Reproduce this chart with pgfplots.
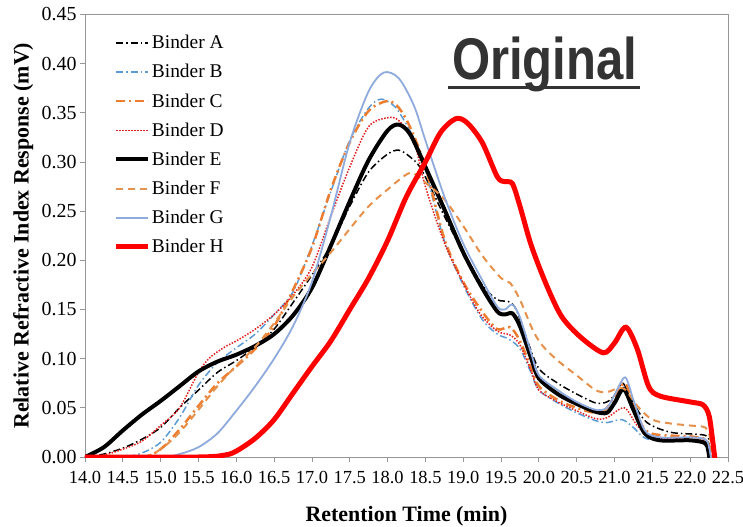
\documentclass[border=0pt]{standalone}
\usepackage{fontspec}
\setmainfont{Liberation Serif}
\newfontfamily\bannerfont{Liberation Sans}
\usepackage{graphicx}
\usepackage{pgfplots}
\pgfplotsset{compat=1.18}

\definecolor{binderB}{RGB}{91,155,213}
\definecolor{binderC}{RGB}{237,125,49}
\definecolor{binderD}{RGB}{225,30,30}
\definecolor{binderF}{RGB}{230,145,75}
\definecolor{binderG}{RGB}{143,170,220}
\definecolor{binderH}{RGB}{255,0,0}
\definecolor{axisgray}{RGB}{150,150,150}
\definecolor{bannergray}{RGB}{51,51,51}

\begin{document}
\begin{tikzpicture}
\useasboundingbox (-85bp,-70bp) rectangle (658bp,457bp);
\begin{axis}[
  width=643bp, height=442.5bp, scale only axis,
  xmin=14, xmax=22.5, ymin=0, ymax=0.45,
  xtick={14,14.5,15,15.5,16,16.5,17,17.5,18,18.5,19,19.5,20,20.5,21,21.5,22,22.5},
  ytick={0,0.05,0.1,0.15,0.2,0.25,0.3,0.35,0.4,0.45},
  /pgf/number format/assume math mode=true,
  xticklabel style={font=\fontsize{18.5}{22}\selectfont, yshift=-6bp,
    /pgf/number format/.cd, fixed, fixed zerofill, precision=1},
  yticklabel style={font=\fontsize{20}{24}\selectfont,
    /pgf/number format/.cd, fixed, fixed zerofill, precision=2},
  tick align=outside, tick pos=left, major tick length=5bp,
  axis line style={axisgray, line width=0.8bp},
  every tick/.style={axisgray, line width=0.8bp},
  xlabel={Retention Time (min)},
  ylabel={Relative Refractive Index Response (mV)},
  label style={font=\fontsize{22}{26}\selectfont\bfseries},
  xlabel style={at={(axis description cs:0.5,-0.133)}, anchor=center},
  ylabel style={at={(axis description cs:-0.096,0.5)}, anchor=center},
  legend image code/.code={\draw[#1] (0bp,0bp) -- (32bp,0bp);},
  legend cell align=left,
  legend style={draw=none, fill=none, at={(axis description cs:0.040,0.958)},
    anchor=north west, font=\fontsize{19.5}{22}\selectfont, row sep=14.2bp,
    /tikz/every odd column/.append style={column sep=1bp},
    nodes={inner sep=0pt}},
]
% Binder A
\addplot[black, line width=1.5bp, smooth, dash pattern=on 7bp off 3bp on 1.5bp off 3bp] coordinates {
(14.0,0) (14.25,0.003) (14.5,0.009) (14.75,0.018) (15.0,0.030) (15.25,0.050) (15.5,0.068)
(15.75,0.086) (16.0,0.098) (16.25,0.112) (16.5,0.130) (16.75,0.157) (17.0,0.185) (17.25,0.215)
(17.5,0.255) (17.75,0.290) (18.0,0.308) (18.15,0.312) (18.3,0.305) (18.45,0.292) (18.75,0.245)
(19.0,0.208) (19.25,0.175) (19.45,0.160) (19.6,0.158) (19.7,0.150) (19.85,0.118) (20.0,0.090)
(20.25,0.075) (20.5,0.064) (20.75,0.055) (20.9,0.056) (21.0,0.063) (21.11,0.075) (21.25,0.055)
(21.43,0.035) (21.75,0.025) (22.2,0.022) (22.25,0.012) (22.28,-0.01)};
\addlegendentry{Binder A}
% Binder B
\addplot[binderB, line width=1.5bp, smooth, dash pattern=on 7bp off 3bp on 1.5bp off 3bp] coordinates {
(14.0,0) (14.5,0) (14.75,0.004) (15.0,0.015) (15.25,0.040) (15.5,0.073) (15.75,0.096)
(16.0,0.111) (16.25,0.125) (16.5,0.145) (16.75,0.168) (17.0,0.215) (17.25,0.270) (17.5,0.322)
(17.75,0.355) (17.92,0.364) (18.1,0.356) (18.25,0.338) (18.4,0.316) (18.5,0.292) (18.75,0.220)
(19.0,0.175) (19.25,0.140) (19.45,0.125) (19.6,0.120) (19.75,0.110) (19.9,0.085) (20.0,0.068)
(20.25,0.055) (20.5,0.045) (20.75,0.037) (20.9,0.035) (21.1,0.038) (21.25,0.030) (21.45,0.018)
(22.0,0.017) (22.2,0.015) (22.25,0.008) (22.28,-0.01)};
\addlegendentry{Binder B}
% Binder C
\addplot[binderC, line width=2.5bp, smooth, dash pattern=on 9bp off 4bp on 2bp off 4bp] coordinates {
(14.0,0) (14.75,0) (15.0,0.008) (15.25,0.028) (15.5,0.052) (15.75,0.075) (16.0,0.092)
(16.25,0.110) (16.5,0.133) (16.75,0.170) (17.0,0.213) (17.25,0.272) (17.5,0.320) (17.75,0.352)
(18.0,0.362) (18.15,0.355) (18.3,0.335) (18.5,0.295) (18.75,0.222) (19.0,0.178) (19.25,0.148)
(19.45,0.130) (19.62,0.132) (19.75,0.118) (19.9,0.090) (20.0,0.072) (20.25,0.058) (20.5,0.050)
(20.75,0.045) (20.9,0.050) (21.13,0.075) (21.25,0.052) (21.45,0.025) (22.0,0.021) (22.2,0.018)
(22.25,0.010) (22.28,-0.01)};
\addlegendentry{Binder C}
% Binder D
\addplot[binderD, line width=1.5bp, smooth, dash pattern=on 1.5bp off 1.5bp] coordinates {
(14.0,0) (14.25,0.002) (14.5,0.008) (14.75,0.016) (15.0,0.032) (15.25,0.050) (15.5,0.086)
(15.65,0.101) (15.85,0.112) (16.0,0.118) (16.25,0.130) (16.5,0.145) (16.75,0.165) (17.0,0.193)
(17.25,0.245) (17.5,0.295) (17.75,0.336) (18.0,0.345) (18.15,0.342) (18.35,0.320) (18.5,0.275)
(18.75,0.218) (19.0,0.177) (19.22,0.146) (19.45,0.128) (19.62,0.124) (19.75,0.114) (19.9,0.087)
(20.0,0.068) (20.25,0.056) (20.5,0.047) (20.75,0.039) (20.9,0.040) (21.13,0.050) (21.3,0.032)
(21.5,0.020) (22.0,0.018) (22.2,0.016) (22.25,0.008) (22.28,-0.01)};
\addlegendentry{Binder D}
% Binder E
\addplot[black, line width=4bp, smooth] coordinates {
(14.0,0) (14.25,0.010) (14.5,0.027) (14.75,0.043) (15.0,0.057) (15.25,0.072) (15.5,0.087)
(15.75,0.097) (16.0,0.104) (16.25,0.113) (16.5,0.125) (16.75,0.144) (17.0,0.172) (17.25,0.215)
(17.5,0.260) (17.75,0.302) (18.0,0.332) (18.15,0.338) (18.3,0.328) (18.5,0.295) (18.75,0.252)
(19.0,0.208) (19.25,0.172) (19.45,0.148) (19.55,0.145) (19.65,0.146) (19.75,0.133) (19.9,0.100)
(20.0,0.080) (20.25,0.064) (20.5,0.054) (20.75,0.046) (20.9,0.045) (21.0,0.055) (21.12,0.069)
(21.25,0.048) (21.4,0.024) (21.6,0.017) (22.0,0.017) (22.2,0.014) (22.24,0.006) (22.27,-0.01)};
\addlegendentry{Binder E}
% Binder F
\addplot[binderF, line width=2bp, smooth, dash pattern=on 7bp off 5bp] coordinates {
(14.0,0) (14.75,0) (15.0,0.008) (15.25,0.025) (15.5,0.048) (15.75,0.072) (16.0,0.093)
(16.25,0.112) (16.5,0.136) (16.75,0.163) (17.0,0.186) (17.25,0.208) (17.5,0.232) (17.75,0.255)
(18.0,0.272) (18.3,0.289) (18.5,0.279) (18.75,0.262) (19.0,0.235) (19.25,0.205) (19.5,0.182)
(19.62,0.177) (19.75,0.160) (19.92,0.129) (20.05,0.113) (20.25,0.098) (20.5,0.083) (20.75,0.068)
(20.9,0.066) (21.05,0.070) (21.15,0.068) (21.3,0.052) (21.5,0.038) (21.75,0.034) (22.0,0.032)
(22.2,0.030) (22.26,0.020) (22.3,-0.01)};
\addlegendentry{Binder F}
% Binder G
\addplot[binderG, line width=1.8bp, smooth] coordinates {
(14.0,0) (15.0,0) (15.25,0.003) (15.5,0.010) (15.75,0.024) (16.0,0.047) (16.25,0.072)
(16.5,0.100) (16.75,0.133) (17.0,0.178) (17.25,0.245) (17.5,0.320) (17.75,0.372) (17.95,0.391)
(18.15,0.385) (18.35,0.357) (18.5,0.322) (18.75,0.265) (19.0,0.217) (19.25,0.180) (19.45,0.153)
(19.55,0.150) (19.65,0.155) (19.75,0.142) (19.9,0.105) (20.0,0.083) (20.25,0.068) (20.5,0.056)
(20.75,0.048) (20.9,0.050) (21.0,0.063) (21.14,0.081) (21.25,0.058) (21.4,0.027) (21.6,0.020)
(22.0,0.020) (22.2,0.018) (22.25,0.010) (22.29,-0.01)};
\addlegendentry{Binder G}
% Binder H
\addplot[binderH, line width=5bp, smooth] coordinates {
(14.0,0) (15.5,0) (15.85,0.002) (16.0,0.006) (16.25,0.019) (16.5,0.038) (16.75,0.065)
(17.0,0.092) (17.25,0.118) (17.5,0.150) (17.75,0.182) (18.0,0.220) (18.25,0.265) (18.5,0.300)
(18.7,0.330) (18.9,0.344) (19.05,0.340) (19.25,0.320) (19.45,0.285) (19.55,0.280) (19.65,0.278)
(19.75,0.255) (19.9,0.215) (20.1,0.175) (20.3,0.143) (20.55,0.122) (20.85,0.106) (21.0,0.116)
(21.15,0.132) (21.3,0.110) (21.45,0.072) (21.6,0.062) (22.0,0.056) (22.17,0.053) (22.25,0.042)
(22.3,0.015) (22.34,-0.01)};
\addlegendentry{Binder H}
% heading in the upper right
\node[anchor=base, text=bannergray, inner sep=0pt] at (axis description cs:0.715,0.852)
  {\scalebox{0.834}[1]{\bannerfont\bfseries\fontsize{59}{60}\selectfont Original}};
\draw[bannergray, line width=3bp] (axis description cs:0.5645,0.836) -- (axis description cs:0.863,0.836);
\end{axis}
\end{tikzpicture}
\end{document}
